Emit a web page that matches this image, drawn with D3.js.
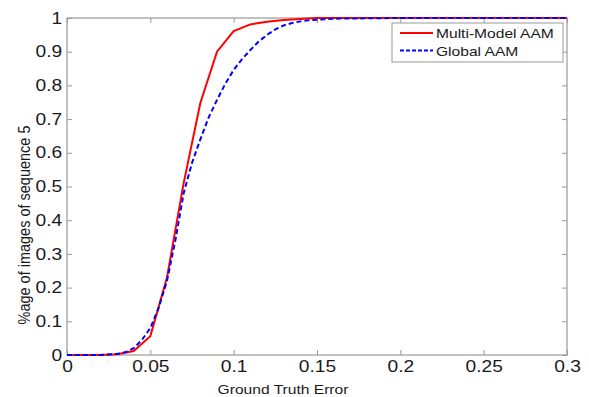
<!DOCTYPE html>
<html>
<head>
<meta charset="utf-8">
<script src="https://cdn.jsdelivr.net/npm/d3@7"></script>
<style>
  body { margin: 0; background: white; }
  text { font-family: "Liberation Sans", Arial, sans-serif; fill: #1a1a1a; }
</style>
</head>
<body>
<svg id="chart" width="589" height="397"></svg>
<script>
// values
var redX = [0, 0.01, 0.02, 0.03, 0.04, 0.05, 0.06, 0.07, 0.08, 0.09, 0.1, 0.11, 0.12, 0.13, 0.14, 0.15, 0.2, 0.25, 0.3];
var redY = [0, 0, 0, 0.002, 0.012, 0.056, 0.23, 0.51, 0.748, 0.9, 0.961, 0.981, 0.989, 0.994, 0.997, 1, 1, 1, 1];

var blueX = [0, 0.01, 0.02, 0.03, 0.035, 0.04, 0.045, 0.05, 0.055, 0.06, 0.065, 0.07, 0.075, 0.08, 0.085, 0.09, 0.095, 0.1,
  0.105, 0.11, 0.115, 0.12, 0.125, 0.13, 0.135, 0.14, 0.145, 0.15, 0.16, 0.18, 0.2, 0.25, 0.3];
var blueY = [0, 0, 0, 0.003, 0.008, 0.02, 0.045, 0.08, 0.14, 0.22, 0.34, 0.48, 0.57, 0.64, 0.705, 0.757, 0.805, 0.846,
  0.878, 0.905, 0.93, 0.95, 0.966, 0.978, 0.985, 0.99, 0.993, 0.995, 0.998, 0.999, 1, 1, 1];

var xTicks = [0, 0.05, 0.1, 0.15, 0.2, 0.25, 0.3];
var yTicks = [0, 0.1, 0.2, 0.3, 0.4, 0.5, 0.6, 0.7, 0.8, 0.9, 1];
var seriesNames = ["Multi-Model AAM", "Global AAM"];

var plotLeft = 67, plotRight = 567, plotTop = 18, plotBottom = 355;
var axisColor = "#999";
var stretch = "scale(1.2,1)";

var svg = d3.select("#chart");

var x = d3.scaleLinear().domain([0, 0.3]).range([plotLeft, plotRight]);
var y = d3.scaleLinear().domain([0, 1]).range([plotBottom, plotTop]);

function styleAxis(g) {
  g.select(".domain").remove();
  g.selectAll("line").attr("stroke", axisColor);
  g.selectAll("text").attr("fill", "#1a1a1a").style("font-size", "16px");
}

// bottom + top ticks
svg.append("g")
  .attr("transform", "translate(0," + plotBottom + ")")
  .call(d3.axisBottom(x).tickValues(xTicks).tickSize(-5).tickPadding(6).tickFormat(d3.format("")))
  .call(styleAxis)
  .call(g => g.selectAll("text").attr("transform", stretch));
svg.append("g")
  .attr("transform", "translate(0," + plotTop + ")")
  .call(d3.axisTop(x).tickValues(xTicks).tickSize(-5).tickFormat(""))
  .call(styleAxis);

// left + right ticks
svg.append("g")
  .attr("transform", "translate(" + plotLeft + ",0)")
  .call(d3.axisLeft(y).tickValues(yTicks).tickSize(-5).tickFormat(d3.format("")))
  .call(styleAxis)
  .call(g => g.selectAll("text").attr("x", -4).attr("transform", stretch));
svg.append("g")
  .attr("transform", "translate(" + plotRight + ",0)")
  .call(d3.axisRight(y).tickValues(yTicks).tickSize(-5).tickFormat(""))
  .call(styleAxis);

// frame
svg.append("rect")
  .attr("x", plotLeft).attr("y", plotTop)
  .attr("width", plotRight - plotLeft).attr("height", plotBottom - plotTop)
  .attr("fill", "none").attr("stroke", axisColor).attr("stroke-width", 1.2);

var line = d3.line().x(d => x(d[0])).y(d => y(d[1]));

svg.append("path")
  .datum(redX.map((v, i) => [v, redY[i]]))
  .attr("d", line)
  .attr("fill", "none").attr("stroke", "#ff0000").attr("stroke-width", 2);

svg.append("path")
  .datum(blueX.map((v, i) => [v, blueY[i]]))
  .attr("d", line)
  .attr("fill", "none").attr("stroke", "#0000ff").attr("stroke-width", 2)
  .attr("stroke-dasharray", "5,3");

// axis labels
svg.append("text")
  .attr("transform", "translate(283,394) " + stretch)
  .attr("text-anchor", "middle")
  .style("font-size", "13px")
  .text("Ground Truth Error");

svg.append("text")
  .attr("transform", "translate(30,225) rotate(-90) scale(1,1.15)")
  .attr("text-anchor", "middle")
  .style("font-size", "14.5px")
  .text("%age of images of sequence 5");

// legend
var legend = svg.append("g").attr("transform", "translate(392,23)");
legend.append("rect")
  .attr("width", 171).attr("height", 39)
  .attr("fill", "white").attr("stroke", axisColor);

var legendItems = legend.selectAll(".item")
  .data(seriesNames)
  .enter()
  .append("g")
  .attr("transform", (d, i) => "translate(0," + (10 + i * 17.5) + ")");

legendItems.append("line")
  .attr("x1", 8).attr("x2", 41)
  .attr("stroke", (d, i) => i == 0 ? "#ff0000" : "#0000ff")
  .attr("stroke-width", 2)
  .attr("stroke-dasharray", (d, i) => i == 0 ? null : "4,2");

legendItems.append("text")
  .attr("transform", "translate(44,5) " + stretch)
  .style("font-size", "13px")
  .text(d => d);
</script>
</body>
</html>
